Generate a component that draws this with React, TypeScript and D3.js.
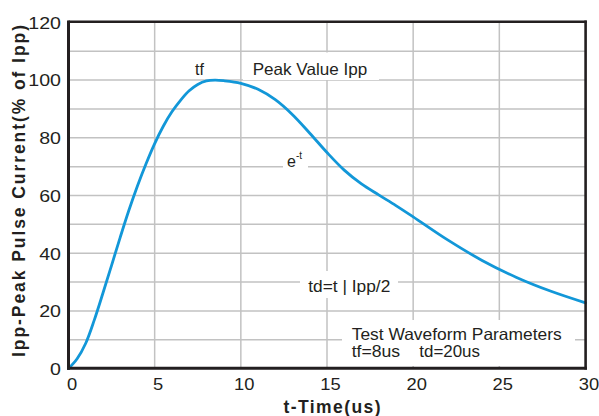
import React from "react";
import * as d3 from "d3";

const timeUs = [0, 0.5, 1, 1.5, 2, 2.5, 3, 3.5, 4, 4.5, 5, 5.5, 6, 6.5, 7, 7.5, 8, 8.5, 9, 10, 11, 12, 13, 14, 15, 16, 17, 18, 19, 20, 22, 24, 26, 28, 30];
const currentPct = [0, 3.4, 8.8, 16.9, 26.2, 35.8, 45.5, 54.8, 63.3, 71, 78, 84, 89, 93, 96.3, 98.5, 99.7, 100, 99.8, 98.9, 96.8, 93.2, 88, 81.6, 74.9, 68.8, 64, 60.2, 56.5, 52.6, 44.6, 37.5, 31.6, 26.8, 22.8];
const xTicks = [0, 5, 10, 15, 20, 25, 30];
const yTicks = [0, 20, 40, 60, 80, 100, 120];
const xGrid = [5, 10, 15, 20, 25];
const yGrid = [10, 20, 30, 40, 50, 60, 70, 80, 90, 100, 110];
const xTitle = "t-Time(us)";
const yTitle = "Ipp-Peak Pulse Current(% of Ipp)";

const W = 599;
const H = 416;
const INK = "#231f20";
const GRID = "#c2c2c2";
const BLUE = "#1297d8";
const FONT = "'Liberation Sans', Arial, Helvetica, sans-serif";

export default function App() {
  const x = d3.scaleLinear().domain([0, 30]).range([68.5, 585.5]);
  const y = d3.scaleLinear().domain([0, 120]).range([368.6, 22.4]);
  const pts = timeUs.map((t, i) => [t, currentPct[i]] as [number, number]);
  const line = d3
    .line<[number, number]>()
    .x((d) => x(d[0]))
    .y((d) => y(d[1]))
    .curve(d3.curveCatmullRom.alpha(0.5));

  return (
    <svg
      width={W}
      height={H}
      viewBox={`0 0 ${W} ${H}`}
      style={{ position: "absolute", left: 0, top: 0, background: "#fff" }}
      fontFamily={FONT}
    >
      <rect x={0} y={0} width={W} height={H} fill="#fff" />
      {/* grid */}
      {xGrid.map((v) => (
        <line key={"gx" + v} x1={x(v)} x2={x(v)} y1={y(120)} y2={y(0)} stroke={GRID} strokeWidth={1.5} />
      ))}
      {yGrid.map((v) => (
        <line key={"gy" + v} x1={x(0)} x2={x(30)} y1={y(v)} y2={y(v)} stroke={GRID} strokeWidth={1.5} />
      ))}
      {/* white label boxes */}
      <rect x={243} y={52.5} width={136} height={27.5} fill="#fff" />
      <rect x={283} y={148} width={25} height={22} fill="#fff" />
      <rect x={300} y={271} width={98} height={27} fill="#fff" />
      <rect x={342} y={320} width={233} height={46} fill="#fff" />
      {/* curve */}
      <path d={line(pts) || ""} fill="none" stroke={BLUE} strokeWidth={2.8} strokeLinejoin="round" strokeLinecap="round" />
      {/* frame */}
      <line x1={x(0)} x2={x(30) + 1.2} y1={21.8} y2={21.8} stroke={INK} strokeWidth={2.6} />
      <line x1={585.6} x2={585.6} y1={20.5} y2={369.5} stroke={INK} strokeWidth={2.6} />
      <line x1={68.5} x2={68.5} y1={20.5} y2={369.8} stroke={INK} strokeWidth={3} />
      <line x1={67} x2={587} y1={368.2} y2={368.2} stroke={INK} strokeWidth={3} />
      {/* tick labels */}
      {yTicks.map((v) => (
        <text
          key={"yt" + v}
          x={61}
          y={y(v) + 6.3}
          textAnchor="end"
          fontSize={16.5}
          fill={INK}
          textLength={String(v).length * 10.9}
          lengthAdjust="spacingAndGlyphs"
        >
          {v}
        </text>
      ))}
      {xTicks.map((v) => (
        <text
          key={"xt" + v}
          x={x(v) + 3.5}
          y={390}
          textAnchor="middle"
          fontSize={16.5}
          fill={INK}
          textLength={String(v).length * 10.2}
          lengthAdjust="spacingAndGlyphs"
        >
          {v}
        </text>
      ))}
      {/* axis titles */}
      <text x={332} y={413} textAnchor="middle" fontSize={17.5} fontWeight="bold" fill={INK} textLength={97} lengthAdjust="spacing">
        {xTitle}
      </text>
      <text
        transform="translate(24.5,191) rotate(-90)"
        x={0}
        y={0}
        textAnchor="middle"
        fontSize={17.5}
        fontWeight="bold"
        fill={INK}
        textLength={332}
        lengthAdjust="spacing"
      >
        {yTitle}
      </text>
      {/* annotations */}
      <text x={195} y={74.5} fontSize={16} fill={INK}>
        tf
      </text>
      <text x={252.7} y={74.5} fontSize={16.5} fill={INK} textLength={114.5} lengthAdjust="spacingAndGlyphs">
        Peak Value Ipp
      </text>
      <text x={287} y={166.5} fontSize={16} fill={INK}>
        e
        <tspan fontSize={10} dy={-8}>
          -t
        </tspan>
      </text>
      <text x={308.3} y={292} fontSize={16.5} fill={INK} textLength={82} lengthAdjust="spacingAndGlyphs">
        td=t | Ipp/2
      </text>
      <text x={351.7} y={340} fontSize={16.5} fill={INK} textLength={210} lengthAdjust="spacingAndGlyphs">
        Test Waveform Parameters
      </text>
      <text x={351.7} y={356.7} fontSize={16.5} fill={INK} textLength={48.5} lengthAdjust="spacingAndGlyphs">
        tf=8us
      </text>
      <text x={419.3} y={356.7} fontSize={16.5} fill={INK} textLength={60.7} lengthAdjust="spacingAndGlyphs">
        td=20us
      </text>
    </svg>
  );
}
